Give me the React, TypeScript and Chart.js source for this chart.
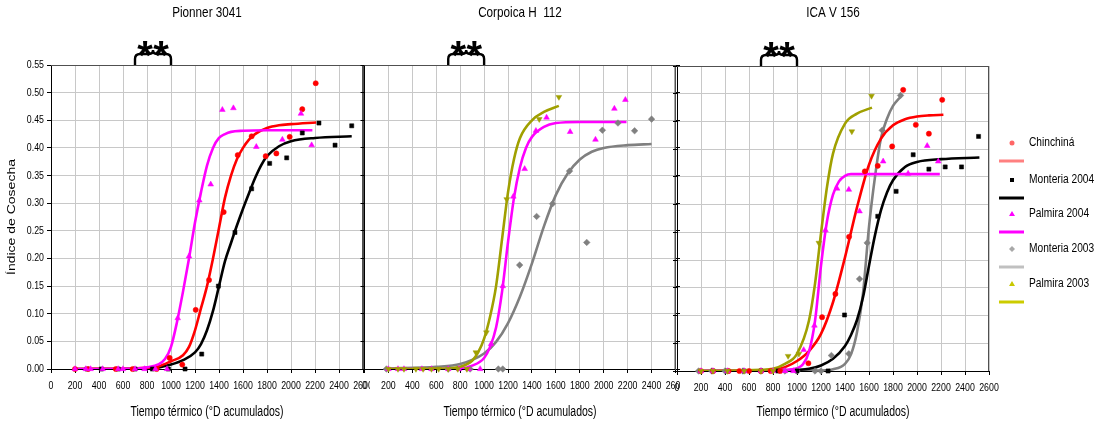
import React, { useEffect, useRef } from 'react';
import { Chart, registerables } from 'chart.js';

Chart.register(...registerables);

type Pt = [number, number];

// ---------- tick labels / texts ----------
const xTickValues = [0, 200, 400, 600, 800, 1000, 1200, 1400, 1600, 1800, 2000, 2200, 2400, 2600];
const xTickLabels = ['0', '200', '400', '600', '800', '1000', '1200', '1400', '1600', '1800', '2000', '2200', '2400', '2600'];
const yTickValues = [0, 0.05, 0.1, 0.15, 0.2, 0.25, 0.3, 0.35, 0.4, 0.45, 0.5, 0.55];
const yTickLabels = ['0.00', '0.05', '0.10', '0.15', '0.20', '0.25', '0.30', '0.35', '0.40', '0.45', '0.50', '0.55'];
const panelTitles = ['Pionner 3041', 'Corpoica H  112', 'ICA V 156'];
const xAxisTitle = 'Tiempo térmico (°D acumulados)';
const yAxisTitle = 'Índice de Cosecha';
const seriesNames = ['Chinchiná', 'Monteria 2004', 'Palmira 2004', 'Monteria 2003', 'Palmira 2003'];
const braceRange = [700, 1000];

// ---------- Panel 1: Pionner 3041 ----------
const p1ChinPts: Pt[] = [[200, 0], [310, 0], [540, 0], [680, 0], [880, 0], [989, 0.020], [1094, 0.008], [1206, 0.107], [1317, 0.161], [1439, 0.284], [1556, 0.387], [1672, 0.421], [1789, 0.385], [1878, 0.390], [1989, 0.420], [2094, 0.470], [2206, 0.517]];
const p1ChinFit: Pt[] = [[200, 0], [700, 0.001], [800, 0.002], [900, 0.005], [1000, 0.014], [1100, 0.025], [1150, 0.04], [1200, 0.07], [1250, 0.11], [1300, 0.15], [1350, 0.2], [1400, 0.255], [1450, 0.31], [1500, 0.35], [1550, 0.38], [1600, 0.40], [1650, 0.415], [1700, 0.425], [1800, 0.436], [1900, 0.441], [2000, 0.443], [2210, 0.446]];
const p1Mon04Pts: Pt[] = [[300, 0], [420, 0], [560, 0], [700, 0], [845, 0], [978, 0], [1117, 0], [1256, 0.027], [1395, 0.150], [1533, 0.247], [1672, 0.326], [1822, 0.372], [1964, 0.382], [2094, 0.427], [2233, 0.445], [2367, 0.405], [2506, 0.440]];
const p1Mon04Fit: Pt[] = [[200, 0], [800, 0.001], [900, 0.003], [1000, 0.008], [1100, 0.016], [1200, 0.03], [1250, 0.045], [1300, 0.07], [1350, 0.105], [1400, 0.15], [1450, 0.195], [1500, 0.228], [1550, 0.26], [1600, 0.29], [1650, 0.318], [1700, 0.345], [1750, 0.368], [1800, 0.385], [1900, 0.403], [2000, 0.412], [2200, 0.418], [2506, 0.421]];
const p1Pal04Pts: Pt[] = [[200, 0], [290, 0], [330, 0], [430, 0], [560, 0], [600, 0], [700, 0], [780, 0], [870, 0], [967, 0], [1056, 0.092], [1150, 0.204], [1236, 0.305], [1331, 0.334], [1428, 0.469], [1520, 0.472], [1711, 0.402], [1928, 0.415], [2083, 0.462], [2172, 0.405]];
const p1Pal04Fit: Pt[] = [[200, 0], [700, 0.001], [800, 0.003], [900, 0.009], [950, 0.018], [1000, 0.04], [1050, 0.085], [1100, 0.14], [1150, 0.20], [1200, 0.265], [1250, 0.32], [1300, 0.368], [1350, 0.40], [1400, 0.418], [1450, 0.425], [1500, 0.429], [1600, 0.431], [1800, 0.432], [2178, 0.432]];

// ---------- Panel 2: Corpoica H 112 ----------
const p2Pal03Pts: Pt[] = [[200, 0], [280, 0], [330, 0], [430, 0], [490, 0], [560, 0], [620, 0], [700, 0], [780, 0], [856, 0], [931, 0.030], [1019, 0.066], [1189, 0.307], [1461, 0.452], [1625, 0.492]];
const p2Pal03Fit: Pt[] = [[200, 0], [700, 0.001], [800, 0.004], [900, 0.015], [950, 0.03], [1000, 0.055], [1050, 0.095], [1100, 0.15], [1150, 0.235], [1200, 0.32], [1250, 0.38], [1300, 0.418], [1400, 0.45], [1500, 0.465], [1625, 0.476]];
const p2Pal04Pts: Pt[] = [[200, 0], [280, 0], [330, 0], [480, 0], [560, 0], [700, 0], [790, 0], [870, 0], [967, 0], [1058, 0.045], [1156, 0.150], [1244, 0.312], [1339, 0.362], [1433, 0.431], [1522, 0.455], [1719, 0.429], [1931, 0.415], [2089, 0.471], [2181, 0.487]];
const p2Pal04Fit: Pt[] = [[200, 0], [800, 0.001], [900, 0.006], [1000, 0.02], [1050, 0.04], [1100, 0.075], [1150, 0.14], [1200, 0.23], [1250, 0.31], [1300, 0.365], [1350, 0.40], [1400, 0.42], [1500, 0.438], [1600, 0.445], [1800, 0.447], [2190, 0.447]];
const p2Mon03Pts: Pt[] = [[183, 0], [700, 0], [883, 0], [1119, 0], [1156, 0], [1297, 0.188], [1439, 0.276], [1572, 0.299], [1714, 0.358], [1858, 0.229], [1989, 0.432], [2119, 0.445], [2258, 0.431], [2400, 0.452]];
const p2Mon03Fit: Pt[] = [[200, 0.001], [600, 0.004], [800, 0.009], [1000, 0.028], [1100, 0.049], [1200, 0.083], [1300, 0.131], [1400, 0.191], [1500, 0.258], [1600, 0.315], [1700, 0.354], [1800, 0.379], [1900, 0.393], [2000, 0.40], [2200, 0.405], [2400, 0.407]];

// ---------- Panel 3: ICA V 156 ----------
const p3ChinPts: Pt[] = [[200, 0], [300, 0], [430, 0], [520, 0], [600, 0], [700, 0], [780, 0], [860, 0], [1095, 0.014], [1209, 0.097], [1320, 0.139], [1434, 0.242], [1565, 0.360], [1673, 0.370], [1793, 0.405], [1885, 0.507], [1990, 0.444], [2099, 0.428], [2210, 0.489]];
const p3ChinFit: Pt[] = [[200, 0], [700, 0.001], [800, 0.002], [900, 0.007], [1000, 0.018], [1100, 0.036], [1200, 0.067], [1300, 0.124], [1400, 0.205], [1500, 0.295], [1600, 0.372], [1700, 0.419], [1800, 0.443], [1900, 0.454], [2000, 0.459], [2100, 0.461], [2220, 0.462]];
const p3Mon04Pts: Pt[] = [[300, 0], [420, 0], [560, 0], [700, 0], [840, 0], [1000, 0], [1259, 0], [1396, 0.101], [1673, 0.279], [1826, 0.324], [1968, 0.390], [2099, 0.364], [2235, 0.368], [2371, 0.368], [2513, 0.423]];
const p3Mon04Fit: Pt[] = [[200, 0], [900, 0.001], [1000, 0.002], [1100, 0.004], [1200, 0.01], [1300, 0.022], [1400, 0.045], [1450, 0.065], [1500, 0.092], [1550, 0.133], [1600, 0.19], [1650, 0.245], [1700, 0.29], [1750, 0.322], [1800, 0.344], [1900, 0.368], [2000, 0.377], [2200, 0.382], [2520, 0.385]];
const p3Pal04Pts: Pt[] = [[200, 0], [300, 0], [420, 0], [560, 0], [700, 0], [800, 0], [900, 0], [970, 0], [1056, 0.038], [1145, 0.082], [1237, 0.254], [1334, 0.329], [1432, 0.327], [1521, 0.288], [1718, 0.378], [1926, 0.356], [2085, 0.406], [2177, 0.378]];
const p3Pal04Fit: Pt[] = [[200, 0], [900, 0.002], [1000, 0.005], [1050, 0.012], [1100, 0.035], [1150, 0.09], [1200, 0.19], [1250, 0.27], [1300, 0.318], [1350, 0.342], [1400, 0.352], [1450, 0.355], [2190, 0.355]];
const p3Mon03Pts: Pt[] = [[180, 0], [290, 0], [400, 0], [550, 0], [700, 0], [900, 0], [1000, 0], [1150, 0], [1200, 0], [1287, 0.028], [1432, 0.031], [1521, 0.166], [1585, 0.231], [1710, 0.434], [1863, 0.497]];
const p3Mon03Fit: Pt[] = [[200, 0], [1200, 0.001], [1300, 0.003], [1400, 0.013], [1450, 0.03], [1500, 0.07], [1550, 0.14], [1600, 0.26], [1650, 0.35], [1700, 0.42], [1750, 0.455], [1800, 0.478], [1865, 0.495]];
const p3Pal03Pts: Pt[] = [[200, 0], [300, 0], [420, 0], [560, 0], [700, 0], [800, 0], [926, 0.027], [1016, 0.031], [1182, 0.231], [1457, 0.432], [1621, 0.496]];
const p3Pal03Fit: Pt[] = [[200, 0], [700, 0.002], [800, 0.004], [900, 0.013], [1000, 0.031], [1100, 0.091], [1150, 0.157], [1200, 0.248], [1250, 0.332], [1300, 0.392], [1400, 0.446], [1500, 0.464], [1625, 0.475]];

type Series = { name: string; pts: Pt[]; fit: Pt[] };
const panelSeries: Series[][] = [
  [
    { name: 'Palmira 2004', pts: p1Pal04Pts, fit: p1Pal04Fit },
    { name: 'Chinchiná', pts: p1ChinPts, fit: p1ChinFit },
    { name: 'Monteria 2004', pts: p1Mon04Pts, fit: p1Mon04Fit },
  ],
  [
    { name: 'Palmira 2003', pts: p2Pal03Pts, fit: p2Pal03Fit },
    { name: 'Palmira 2004', pts: p2Pal04Pts, fit: p2Pal04Fit },
    { name: 'Monteria 2003', pts: p2Mon03Pts, fit: p2Mon03Fit },
  ],
  [
    { name: 'Palmira 2003', pts: p3Pal03Pts, fit: p3Pal03Fit },
    { name: 'Palmira 2004', pts: p3Pal04Pts, fit: p3Pal04Fit },
    { name: 'Chinchiná', pts: p3ChinPts, fit: p3ChinFit },
    { name: 'Monteria 2004', pts: p3Mon04Pts, fit: p3Mon04Fit },
    { name: 'Monteria 2003', pts: p3Mon03Pts, fit: p3Mon03Fit },
  ],
];

// ---------- styles ----------
const seriesStyle: Record<string, { color: string; point: string; radius: number; rotation: number; legendColor: string; legendLine: string }> = {
  'Chinchiná': { color: '#ff0000', point: 'circle', radius: 2.6, rotation: 0, legendColor: '#ff6666', legendLine: '#ff8080' },
  'Monteria 2004': { color: '#000000', point: 'rect', radius: 2.9, rotation: 0, legendColor: '#000000', legendLine: '#000000' },
  'Palmira 2004': { color: '#ff00ff', point: 'triangle', radius: 3.3, rotation: 0, legendColor: '#ff00ff', legendLine: '#ff00ff' },
  'Monteria 2003': { color: '#808080', point: 'rectRot', radius: 3.3, rotation: 0, legendColor: '#a8a8a8', legendLine: '#c0c0c0' },
  'Palmira 2003': { color: '#a0a000', point: 'triangle', radius: 3.3, rotation: 180, legendColor: '#c8c800', legendLine: '#cccc00' },
};

const GEOM = [
  { left: 0, width: 370, padR: 7, axisW: 51, padTop: 65, xAxisH: 54, rightTicks: true },
  { left: 360, width: 320, padR: 4, axisW: 4, padTop: 65, xAxisH: 54, rightTicks: true },
  { left: 670, width: 431, padR: 112, axisW: 7, padTop: 66, xAxisH: 52, rightTicks: false },
];

const FONT = '"Liberation Sans", Arial, sans-serif';

function sText(ctx: CanvasRenderingContext2D, text: string, x: number, y: number, size: number,
  opt: { align?: CanvasTextAlign; sx?: number; bold?: boolean; color?: string; rotate?: boolean } = {}) {
  ctx.save();
  ctx.translate(x, y);
  ctx.scale(opt.sx ?? 0.8, 1);
  if (opt.rotate) ctx.rotate(-Math.PI / 2);
  ctx.font = `${opt.bold ? 'bold ' : ''}${size}px ${FONT}`;
  ctx.textAlign = opt.align ?? 'center';
  ctx.textBaseline = 'middle';
  ctx.fillStyle = opt.color ?? '#000';
  ctx.fillText(text, 0, 0);
  ctx.restore();
}

function drawMarker(ctx: CanvasRenderingContext2D, kind: string, x: number, y: number, color: string) {
  ctx.save();
  ctx.fillStyle = color;
  ctx.beginPath();
  if (kind === 'circle') {
    ctx.arc(x, y, 2.5, 0, Math.PI * 2);
  } else if (kind === 'rect') {
    ctx.rect(x - 2, y - 2, 4, 4);
  } else if (kind === 'triangle') {
    ctx.moveTo(x, y - 3); ctx.lineTo(x + 3, y + 2); ctx.lineTo(x - 3, y + 2); ctx.closePath();
  } else {
    ctx.moveTo(x, y - 3); ctx.lineTo(x + 3, y); ctx.lineTo(x, y + 3); ctx.lineTo(x - 3, y); ctx.closePath();
  }
  ctx.fill();
  ctx.restore();
}

function buildConfig(i: number): any {
  const g = GEOM[i];
  const datasets: any[] = [];
  panelSeries[i].forEach((s) => {
    const st = seriesStyle[s.name];
    datasets.push({
      label: s.name,
      data: s.pts.map(([x, y]) => ({ x, y })),
      showLine: false,
      pointStyle: st.point,
      pointRadius: st.radius,
      pointRotation: st.rotation,
      backgroundColor: st.color,
      borderColor: st.color,
      pointBorderWidth: 0.5,
      clip: false,
      order: 0,
    });
  });
  panelSeries[i].forEach((s) => {
    const st = seriesStyle[s.name];
    datasets.push({
      label: s.name + ' ajuste',
      data: s.fit.map(([x, y]) => ({ x, y })),
      showLine: true,
      pointRadius: 0,
      borderColor: st.color,
      backgroundColor: st.color,
      borderWidth: 2.6,
      cubicInterpolationMode: 'monotone',
      order: 1,
    });
  });

  const grid = { color: '#c8c8c8', lineWidth: 1, tickColor: '#000', tickLength: 4 };

  const decor = {
    id: 'decor' + i,
    afterDraw(chart: any) {
      const ctx: CanvasRenderingContext2D = chart.ctx;
      const ca = chart.chartArea;
      const xs = chart.scales.x;
      const ys = chart.scales.y;
      const cx = (ca.left + ca.right) / 2;

      // top and right frame
      ctx.save();
      ctx.strokeStyle = '#505050';
      ctx.lineWidth = 1;
      ctx.beginPath();
      ctx.moveTo(ca.left, ca.top + 0.5);
      ctx.lineTo(ca.right, ca.top + 0.5);
      ctx.moveTo(ca.right - 0.5, ca.top);
      ctx.lineTo(ca.right - 0.5, ca.bottom);
      ctx.stroke();
      ctx.restore();

      // x tick labels
      xTickValues.forEach((v, k) => {
        sText(ctx, xTickLabels[k], xs.getPixelForValue(v), ca.bottom + 17, 11, { sx: 0.8 });
      });
      // y tick labels (first panel only)
      if (i === 0) {
        yTickValues.forEach((v, k) => {
          sText(ctx, yTickLabels[k], ca.left - 7, ys.getPixelForValue(v), 11, { sx: 0.8, align: 'right' });
        });
        sText(ctx, yAxisTitle, 12, (ca.top + ca.bottom) / 2, 14, { sx: 0.75, rotate: true });
      }
      // titles
      sText(ctx, panelTitles[i], cx, 13, 15, { sx: 0.78 });
      sText(ctx, xAxisTitle, cx, 412, 14, { sx: 0.75 });

      // brace with asterisks
      const x1 = xs.getPixelForValue(braceRange[0]);
      const x2 = xs.getPixelForValue(braceRange[1]);
      const xm = (x1 + x2) / 2;
      const yb = ca.top;
      ctx.save();
      ctx.strokeStyle = '#000';
      ctx.lineWidth = 2.4;
      ctx.beginPath();
      ctx.moveTo(x1, yb);
      ctx.lineTo(x1, yb - 6);
      ctx.quadraticCurveTo(x1, yb - 11, x1 + 5, yb - 11);
      ctx.lineTo(xm - 4, yb - 11);
      ctx.quadraticCurveTo(xm, yb - 11, xm, yb - 15);
      ctx.quadraticCurveTo(xm, yb - 11, xm + 4, yb - 11);
      ctx.lineTo(x2 - 5, yb - 11);
      ctx.quadraticCurveTo(x2, yb - 11, x2, yb - 6);
      ctx.lineTo(x2, yb);
      ctx.stroke();
      ctx.font = `bold 40px ${FONT}`;
      ctx.textAlign = 'center';
      ctx.textBaseline = 'alphabetic';
      ctx.fillStyle = '#000';
      ctx.fillText('*', xm - 8, yb + 4);
      ctx.fillText('*', xm + 8, yb + 4);
      ctx.restore();

      // legend (last panel)
      if (i === 2) {
        const off = g.left;
        const rows = [143, 180, 214, 249, 284];
        seriesNames.forEach((name, k) => {
          const st = seriesStyle[name];
          const y = rows[k];
          drawMarker(ctx, st.point, 1012 - off, y, st.legendColor);
          sText(ctx, name, 1029 - off, y, 12, { sx: 0.85, align: 'left' });
          ctx.save();
          ctx.strokeStyle = st.legendLine;
          ctx.lineWidth = 3;
          ctx.beginPath();
          ctx.moveTo(999 - off, y + 18);
          ctx.lineTo(1024 - off, y + 18);
          ctx.stroke();
          ctx.restore();
        });
      }
    },
  };

  return {
    type: 'scatter',
    data: { datasets },
    options: {
      animation: false,
      responsive: false,
      events: [],
      layout: { padding: { left: 0, right: g.padR, top: g.padTop, bottom: 0 } },
      plugins: { legend: { display: false }, tooltip: { enabled: false }, title: { display: false } },
      scales: {
        x: {
          type: 'linear', position: 'bottom', min: 0, max: 2600,
          afterFit: (s: any) => { s.height = g.xAxisH; },
          ticks: { display: false, stepSize: 200 },
          grid,
          border: { color: '#000', width: 1 },
        },
        y: {
          type: 'linear', position: 'left', min: 0, max: 0.55,
          afterFit: (s: any) => { s.width = g.axisW; },
          ticks: { display: false, stepSize: 0.05 },
          grid,
          border: { color: '#000', width: 1 },
        },
        y2: {
          type: 'linear', position: 'right', min: 0, max: 0.55,
          display: g.rightTicks,
          afterFit: (s: any) => { s.width = 0; },
          ticks: { display: false, stepSize: 0.05 },
          grid: { drawOnChartArea: false, tickColor: '#000', tickLength: 5 },
          border: { color: '#505050', width: 1 },
        },
      },
    },
    plugins: [decor],
  };
}

export default function App() {
  const r0 = useRef<HTMLCanvasElement>(null);
  const r1 = useRef<HTMLCanvasElement>(null);
  const r2 = useRef<HTMLCanvasElement>(null);
  const refs = [r0, r1, r2];

  useEffect(() => {
    const charts = refs.map((r, i) => new Chart(r.current as HTMLCanvasElement, buildConfig(i)));
    return () => charts.forEach((c) => c.destroy());
  }, []);

  return (
    <div style={{ position: 'absolute', left: 0, top: 0, width: 1101, height: 423, background: '#fff', overflow: 'hidden' }}>
      {GEOM.map((g, i) => (
        <canvas
          key={i}
          ref={refs[i]}
          width={g.width}
          height={423}
          style={{ position: 'absolute', left: g.left, top: 0, width: g.width, height: 423 }}
        />
      ))}
    </div>
  );
}
